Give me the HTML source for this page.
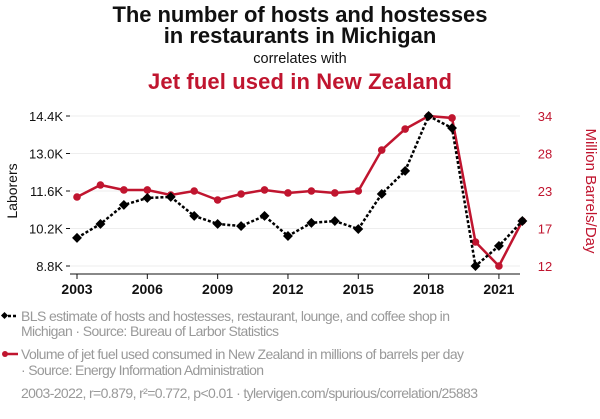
<!DOCTYPE html>
<html><head><meta charset="utf-8">
<style>
body{margin:0;background:#fff;width:600px;height:414px;overflow:hidden;font-family:"Liberation Sans",Arial,sans-serif}
svg text{font-family:"Liberation Sans",Arial,sans-serif}
</style></head><body>
<svg id="c" width="600" height="414">
<text x="300" y="22" text-anchor="middle" font-size="22" font-weight="bold" fill="#111" textLength="375">The number of hosts and hostesses</text>
<text x="300" y="43" text-anchor="middle" font-size="22" font-weight="bold" fill="#111">in restaurants in Michigan</text>
<text x="300" y="63" text-anchor="middle" font-size="14.5" fill="#111">correlates with</text>
<text x="300" y="89" text-anchor="middle" font-size="22" font-weight="bold" fill="#c0152f" textLength="304">Jet fuel used in New Zealand</text>
<g id="grid"></g><g id="axes"></g><g id="series"></g>
<text transform="translate(17,191) rotate(-90)" text-anchor="middle" font-size="14" fill="#111">Laborers</text>
<text transform="translate(586,191) rotate(90)" text-anchor="middle" font-size="15" fill="#c0152f">Million Barrels/Day</text>
<g>
<line x1="3" y1="316" x2="18" y2="316" stroke="#000" stroke-width="2.5" stroke-dasharray="3,2"/>
<rect x="2" y="313" width="5" height="5" transform="rotate(45 4.5 315.5)" fill="#000"/>
<text x="21" y="321" font-size="14" fill="#999" textLength="429">BLS estimate of hosts and hostesses, restaurant, lounge, and coffee shop in</text>
<text x="21" y="336" font-size="14" fill="#999" textLength="258">Michigan · Source: Bureau of Larbor Statistics</text>
</g>
<g>
<line x1="3" y1="354" x2="18" y2="354" stroke="#c0152f" stroke-width="2.5"/>
<circle cx="5" cy="354" r="3" fill="#c0152f"/>
<text x="21" y="359" font-size="14" fill="#999" textLength="443">Volume of jet fuel used consumed in New Zealand in millions of barrels per day</text>
<text x="21" y="375" font-size="14" fill="#999" textLength="243">· Source: Energy Information Administration</text>
</g>
<text x="21" y="398" font-size="14" fill="#999" textLength="457">2003-2022, r=0.879, r²=0.772, p&lt;0.01 · tylervigen.com/spurious/correlation/25883</text>
</svg>
<script>
const years=[2003,2004,2005,2006,2007,2008,2009,2010,2011,2012,2013,2014,2015,2016,2017,2018,2019,2020,2021,2022];
const hosts=[9.85,10.37,11.08,11.34,11.38,10.67,10.37,10.29,10.67,9.92,10.41,10.48,10.18,11.49,12.35,14.4,13.95,8.8,9.55,10.48];
const fuel=[22.12,23.88,23.15,23.15,22.41,23.0,21.68,22.56,23.15,22.71,23.0,22.71,23.0,29.01,32.09,34.0,33.71,15.52,12.0,18.6];
const leftTicks=[8.8,10.2,11.6,13.0,14.4];
const leftTickLabels=["8.8K","10.2K","11.6K","13.0K","14.4K"];
const rightTicks=[12,17.5,23,28.5,34];
const rightTickLabels=["12","17","23","28","34"];
const xTicks=[2003,2006,2009,2012,2015,2018,2021];
const NS="http://www.w3.org/2000/svg";
const x=v=>77+(v-2003)*23.44;
const yL=v=>266-(v-8.8)/(14.4-8.8)*150;
const yR=v=>266-(v-12)/(34-12)*150;
function mk(p,t,a){const e=document.createElementNS(NS,t);for(const k in a)e.setAttribute(k,a[k]);p.appendChild(e);return e;}
const grid=document.getElementById('grid'),axes=document.getElementById('axes'),ser=document.getElementById('series');
leftTicks.forEach((t,i)=>{
 const g=mk(grid,'line',{x1:70,x2:520,y1:yL(t),y2:yL(t),stroke:'#eee','stroke-width':1});
 
 
 const l=mk(axes,'text',{x:63,y:yL(t)+5,'text-anchor':'end','font-size':13,fill:'#111'});l.textContent=leftTickLabels[i];
 
 
 mk(axes,'line',{x1:66,x2:70,y1:yL(t),y2:yL(t),stroke:'#111'});
});
rightTicks.forEach((t,i)=>{
 const l=mk(axes,'text',{x:545,y:yR(t)+5,'text-anchor':'middle','font-size':13,fill:'#c0152f'});l.textContent=rightTickLabels[i];
 
 
});
mk(axes,'line',{x1:70,x2:520,y1:274,y2:274,stroke:'#111'});
xTicks.forEach(t=>{
 mk(axes,'line',{x1:x(t),x2:x(t),y1:274,y2:279,stroke:'#111'});
 const l=mk(axes,'text',{x:x(t),y:294,'text-anchor':'middle','font-size':14,'font-weight':'bold',fill:'#111'});l.textContent=t;
 
 
});
const rp=mk(ser,'polyline',{points:years.map((y,i)=>x(y)+','+yR(fuel[i])).join(' '),fill:'none',stroke:'#c0152f','stroke-width':2.5});


years.forEach((y,i)=>{const c=mk(ser,'circle',{cx:x(y),cy:yR(fuel[i]),r:3.8,fill:'#c0152f'});
 
 });
const bp=mk(ser,'polyline',{points:years.map((y,i)=>x(y)+','+yL(hosts[i])).join(' '),fill:'none',stroke:'#000','stroke-width':2.5,'stroke-dasharray':'3,2'});


years.forEach((y,i)=>{const cx=x(y),cy=yL(hosts[i]);const d=mk(ser,'rect',{x:cx-3.5,y:cy-3.5,width:7,height:7,fill:'#000',transform:`rotate(45 ${cx} ${cy})`});
 
 });
</script>
</body></html>
